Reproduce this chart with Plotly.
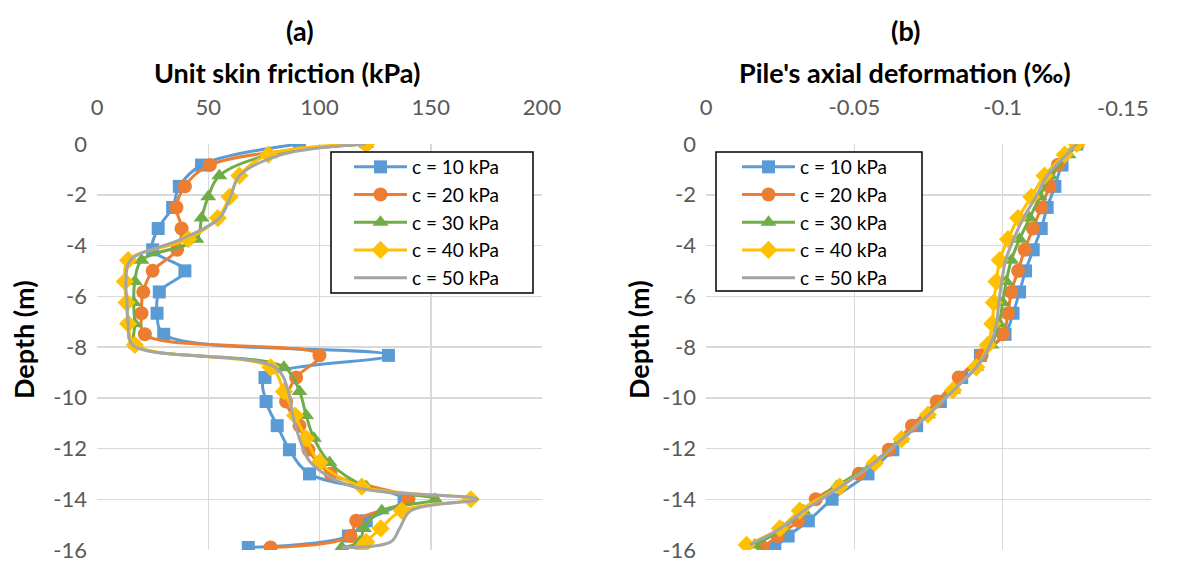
import plotly.graph_objects as go

# ---------------- data ----------------
series_names = ["c = 10 kPa", "c = 20 kPa", "c = 30 kPa", "c = 40 kPa", "c = 50 kPa"]

# depths of node points (c = 10, 20 kPa) and element mid-points (c = 30, 40, 50 kPa)
depth_nodes = [0, -0.83, -1.67, -2.5, -3.33, -4.17, -5.0, -5.83, -6.67, -7.5,
               -8.33, -9.2, -10.15, -11.1, -12.05, -13.0, -14.0, -14.85, -15.45, -15.9]
depth_mid_a = [0, -0.42, -1.25, -2.08, -2.92, -3.75, -4.58, -5.42, -6.25, -7.08, -7.92,
               -8.8, -9.75, -10.7, -11.6, -12.55, -13.5, -14.0, -14.45, -15.15, -15.68, -15.9]
depth_mid_b = [0, -0.42, -1.25, -2.08, -2.92, -3.75, -4.58, -5.42, -6.25, -7.08, -7.92,
               -8.8, -9.7, -10.67, -11.63, -12.57, -13.5, -14.45, -15.15, -15.8]

# (a) unit skin friction (kPa)
friction_c10 = [91, 47, 37, 34, 27.5, 25, 39.5, 28, 27, 30,
                131, 75.5, 76, 81, 86.5, 95.5, 138, 121, 113, 68]
friction_c20 = [121, 50.7, 39.5, 35.7, 38, 36, 25, 20.8, 20, 21.5,
                100, 89.5, 85, 91, 95, 105, 140, 116.5, 114, 78]
friction_c30 = [121, 77.6, 55, 50, 47, 44.7, 20, 17, 16.5, 17, 17.5,
                84, 91, 94, 97.5, 104.5, 121, 152, 128, 120, 118, 110]
friction_c40 = [121, 77, 64, 59.6, 54.3, 41, 14, 12.5, 13.3, 14, 17,
                78, 84, 89, 94, 100, 119, 168, 137, 127.5, 121, 119]
friction_c50 = [121, 83, 64, 60, 55, 38, 15, 13, 13.5, 14, 16,
                80, 86, 88, 91, 96, 115, 171, 141, 136, 132, 110]

# (b) pile's axial deformation (per mille)
deform_c10 = [-0.125, -0.1200, -0.1176, -0.1150, -0.1130, -0.1103, -0.1077, -0.1057, -0.1035, -0.1008,
              -0.0925, -0.0862, -0.0790, -0.0710, -0.0630, -0.0546, -0.0425, -0.0345, -0.0277, -0.0232]
deform_c20 = [-0.125, -0.1186, -0.1158, -0.1130, -0.1102, -0.1074, -0.1052, -0.1029, -0.1018, -0.1001,
              -0.0929, -0.0852, -0.0778, -0.0694, -0.0616, -0.0515, -0.0370, -0.0310, -0.0242, -0.0192]
deform_c30 = [-0.125, -0.1222, -0.1160, -0.1125, -0.1091, -0.1057, -0.1029, -0.1012, -0.1000, -0.0988,
              -0.0962, -0.0911, -0.0833, -0.0748, -0.0659, -0.0563, -0.0440, -0.0328, -0.0260, -0.0165]
deform_c40 = [-0.125, -0.1209, -0.1141, -0.1097, -0.1052, -0.1018, -0.0990, -0.0979, -0.0970, -0.0965,
              -0.0950, -0.0911, -0.0833, -0.0748, -0.0659, -0.0569, -0.0451, -0.0316, -0.0249, -0.0137]
deform_c50 = [-0.125, -0.1215, -0.1150, -0.1112, -0.1070, -0.1037, -0.1010, -0.0997, -0.0987, -0.0979,
              -0.0958, -0.0911, -0.0835, -0.0750, -0.0660, -0.0566, -0.0455, -0.0330, -0.0250, -0.0148]

# axis ticks
depth_ticks = [0, -2, -4, -6, -8, -10, -12, -14, -16]
depth_ticktext = ["0", "-2", "-4", "-6", "-8", "-10", "-12", "-14", "-16"]
friction_ticks = [0, 50, 100, 150, 200]
deform_ticks = [0, -0.05, -0.1, -0.15]
deform_ticktext = ["0", "-0.05", "-0.1", "-0.15"]

# ---------------- styling ----------------
W, H = 1185, 562
colors = ["#5B9BD5", "#ED7D31", "#70AD47", "#FFC000", "#A5A5A5"]
symbols = ["square", "circle", "triangle-up", "diamond", None]
msizes = [13, 14, 14, 14, 0]
FONT = "Lato, 'Noto Sans', sans-serif"

def px_x(p):                   # screen pixel -> paper fraction
    return p / W

def px_y(p):
    return 1 - p / H

fig = go.Figure()

friction = [friction_c10, friction_c20, friction_c30, friction_c40, friction_c50]
deform = [deform_c10, deform_c20, deform_c30, deform_c40, deform_c50]
depth_a = [depth_nodes, depth_nodes, depth_mid_a, depth_mid_a, depth_mid_a]
depth_b = [depth_nodes, depth_nodes, depth_mid_b, depth_mid_b, depth_mid_b]

for i in range(5):
    mode = "lines+markers" if symbols[i] else "lines"
    mk = dict(symbol=symbols[i], size=msizes[i], color=colors[i], line=dict(width=0)) if symbols[i] else None
    fig.add_trace(go.Scatter(
        x=friction[i], y=depth_a[i], name=series_names[i], mode=mode,
        line=dict(color=colors[i], width=3, shape="spline", smoothing=1),
        marker=mk, xaxis="x", yaxis="y", legend="legend"))
for i in range(5):
    mode = "lines+markers" if symbols[i] else "lines"
    mk = dict(symbol=symbols[i], size=msizes[i], color=colors[i], line=dict(width=0)) if symbols[i] else None
    fig.add_trace(go.Scatter(
        x=deform[i], y=depth_b[i], name=series_names[i], mode=mode,
        line=dict(color=colors[i], width=3, shape="spline", smoothing=1),
        marker=mk, xaxis="x2", yaxis="y2", legend="legend2"))

grid = "#D9D9D9"
tickfont = dict(family=FONT, size=22, color="#595959")

common_x = dict(side="top", showgrid=True, gridcolor=grid, gridwidth=1.5, zeroline=False,
                showline=False, ticks="", tickfont=tickfont, ticklabelstandoff=24,
                ticklabeloverflow="allow", automargin=False, fixedrange=True)
common_y = dict(range=[-16, 0], tickvals=depth_ticks, ticktext=depth_ticktext, showgrid=True,
                gridcolor=grid, gridwidth=1.5, zeroline=False, showline=False, ticks="",
                tickfont=tickfont, ticklabelstandoff=9, ticklabeloverflow="allow",
                automargin=False, fixedrange=True, domain=[px_y(550), px_y(144)])

legend_style = dict(bgcolor="rgba(0,0,0,0)", borderwidth=0,
                    font=dict(family=FONT, size=19, color="black"), itemwidth=53,
                    xanchor="left", yanchor="top", tracegroupgap=0)

# the last deformation tick label is pulled inside the chart, as in the reference
deform_ticktext_shown = deform_ticktext[:-1] + [""]

fig.update_layout(
    width=W, height=H, margin=dict(l=0, r=0, t=0, b=0, autoexpand=False),
    paper_bgcolor="white", plot_bgcolor="white",
    font=dict(family=FONT, color="black"),
    xaxis=dict(domain=[px_x(97), px_x(542)], range=[0, 200], tickvals=friction_ticks,
               anchor="y", **common_x),
    yaxis=dict(anchor="x", **common_y),
    xaxis2=dict(domain=[px_x(706), px_x(1151)], range=[0, -0.15], tickvals=deform_ticks,
                ticktext=deform_ticktext_shown, anchor="y2", **common_x),
    yaxis2=dict(anchor="x2", **common_y),
    legend=dict(x=px_x(349), y=px_y(148), **legend_style),
    legend2=dict(x=px_x(737), y=px_y(148), **legend_style),
    showlegend=True,
)

fig.add_annotation(text=deform_ticktext[-1], x=deform_ticks[-1], xref="x2",
                   y=px_y(107), yref="paper", showarrow=False, xanchor="right",
                   yanchor="middle", font=tickfont)

# legend frames (white boxes with black border, like the reference)
for (x0, y0, x1, y1) in [(331, 152, 533, 293), (716, 152, 922, 291)]:
    fig.add_shape(type="rect", xref="paper", yref="paper",
                  x0=px_x(x0), x1=px_x(x1), y0=px_y(y1), y1=px_y(y0),
                  fillcolor="white", line=dict(color="black", width=1.5), layer="above")

title_font = dict(family=FONT, size=27, color="black")
annots = [
    ("<b>(a)</b>", 300, 31, 0),
    ("<b>Unit skin friction (kPa)</b>", 287, 73, 0),
    ("<b>(b)</b>", 905, 31, 0),
    ("<b>Pile's axial deformation (‰)</b>", 905, 73, 0),
    ("<b>Depth (m)</b>", 23, 340, -90),
    ("<b>Depth (m)</b>", 638, 340, -90),
]
for text, xp, yp, ang in annots:
    fig.add_annotation(text=text, x=px_x(xp), y=px_y(yp), xref="paper", yref="paper",
                       showarrow=False, textangle=ang, font=title_font,
                       xanchor="center", yanchor="middle")

fig.write_html("out.html", config={"displayModeBar": False, "staticPlot": True},
               post_script="document.body.style.margin='0';document.body.style.overflow='hidden';")
